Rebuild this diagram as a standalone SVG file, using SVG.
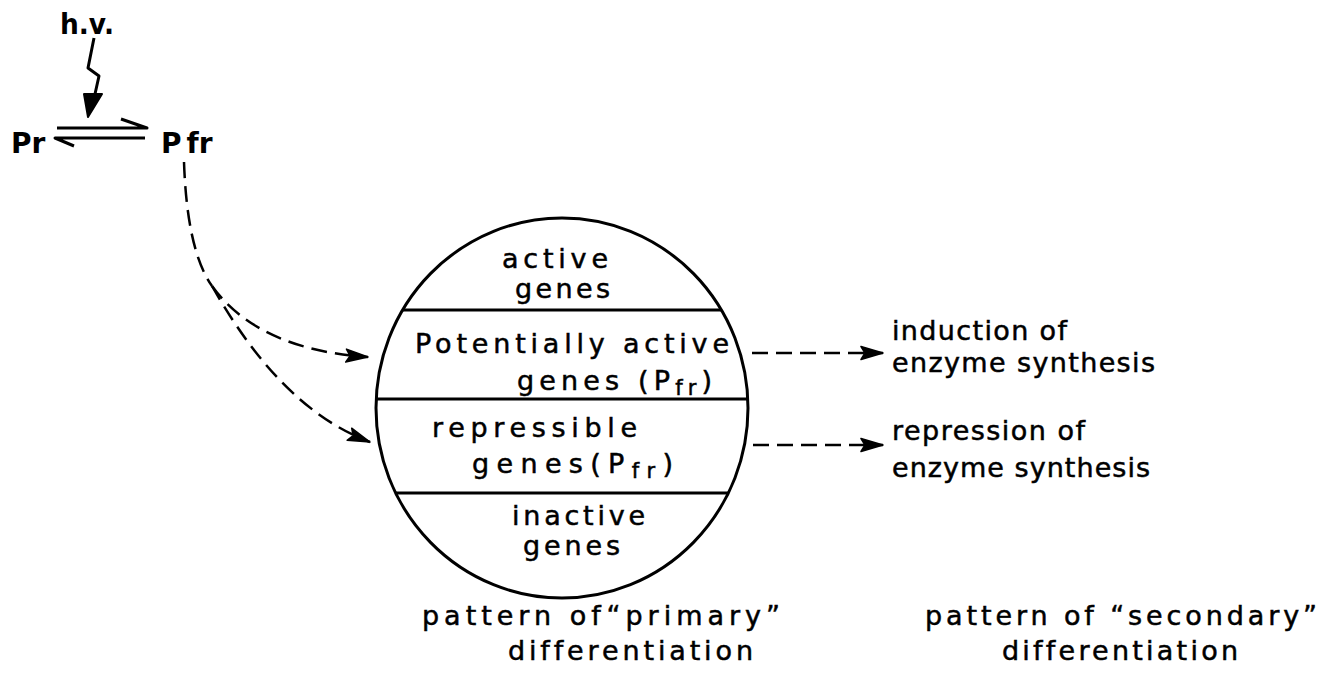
<svg xmlns="http://www.w3.org/2000/svg" width="1334" height="679" viewBox="0 0 1334 679">
<style>
.t{font-family:"DejaVu Sans","Liberation Sans",sans-serif;font-size:27px;fill:#000;stroke:#000;stroke-width:0.5;font-variant-ligatures:none}
.b{font-family:"DejaVu Sans","Liberation Sans",sans-serif;font-size:28px;font-weight:bold;fill:#000}
.sub{font-size:21px}
.ln{stroke:#000;stroke-width:3;fill:none}
.dash{stroke:#000;stroke-width:2.5;fill:none;stroke-dasharray:16 8}
</style>
<defs>
<marker id="ah" viewBox="0 0 24 16" refX="23" refY="8" markerWidth="24" markerHeight="16" markerUnits="userSpaceOnUse" orient="auto">
<path d="M1,1.5 L23,8 L1,14.5 L5,8 Z" fill="#000" stroke="#000" stroke-width="1.5" stroke-linejoin="round"/>
</marker>
</defs>
<rect width="1334" height="679" fill="#fff"/>

<g id="light">
<text class="b" x="60" y="34" font-size="28" textLength="54" lengthAdjust="spacingAndGlyphs">h.v.</text>
<path class="ln" stroke-width="4" d="M94,38 L88,68 L99,76 L95,94" stroke-linejoin="round"/>
<path d="M84,94 L102,94 L88,117 Z" fill="#000" stroke="#000" stroke-width="2" stroke-linejoin="round"/>
</g>

<g id="pr">
<text class="b" x="11" y="153">Pr</text>
</g>
<g id="pfr">
<text class="b" x="161" y="153">P<tspan dx="5">fr</tspan></text>
</g>

<g id="equilibrium">
<path class="ln" stroke-width="4" d="M57,128 L147,128 L121,119" stroke-linejoin="round"/>
<path class="ln" stroke-width="4" d="M145,138 L55,138 L74,146" stroke-linejoin="round"/>
</g>

<g id="cell">
<ellipse cx="562" cy="408" rx="186" ry="190" fill="none" stroke="#000" stroke-width="3"/>
<line class="ln" x1="403" y1="310" x2="721" y2="310" stroke-width="2.5"/>
<line class="ln" x1="376" y1="399" x2="748" y2="399" stroke-width="2.5"/>
<line class="ln" x1="396" y1="493" x2="728" y2="493" stroke-width="2.5"/>
<text class="t" x="502" y="268" textLength="106" lengthAdjust="spacing">active</text>
<text class="t" x="515" y="298" textLength="95" lengthAdjust="spacing">genes</text>
<text class="t" x="415" y="353" textLength="314" lengthAdjust="spacing">Potentially active</text>
<text class="t" x="517" y="390" textLength="195" lengthAdjust="spacing">genes (P<tspan class="sub" dy="5">fr</tspan><tspan dy="-5">)</tspan></text>
<text class="t" x="432" y="437" textLength="205" lengthAdjust="spacing">repressible</text>
<text class="t" x="472" y="473" textLength="201" lengthAdjust="spacing">genes(P<tspan class="sub" dy="5">fr</tspan><tspan dy="-5">)</tspan></text>
<text class="t" x="512" y="525" textLength="133" lengthAdjust="spacing">inactive</text>
<text class="t" x="523" y="555" textLength="97" lengthAdjust="spacing">genes</text>
</g>

<g id="induction">
<text class="t" x="892" y="340" textLength="175" lengthAdjust="spacing">induction of</text>
<text class="t" x="892" y="372" textLength="263" lengthAdjust="spacing">enzyme synthesis</text>
</g>
<g id="repression">
<text class="t" x="892" y="440" textLength="193" lengthAdjust="spacing">repression of</text>
<text class="t" x="892" y="477" textLength="258" lengthAdjust="spacing">enzyme synthesis</text>
</g>

<g id="primary">
<text class="t" x="422" y="625" textLength="358" lengthAdjust="spacing">pattern of“primary”</text>
<text class="t" x="508" y="660" textLength="245" lengthAdjust="spacing">differentiation</text>
</g>
<g id="secondary">
<text class="t" x="925" y="625" textLength="392" lengthAdjust="spacing">pattern of “secondary”</text>
<text class="t" x="1002" y="660" textLength="236" lengthAdjust="spacing">differentiation</text>
</g>

<g id="connectors">
<path class="dash" d="M184,162 C186,220 195,262 212,286"/>
<path class="dash" d="M212,286 C240,325 290,352 368,357" marker-end="url(#ah)"/>
<path class="dash" d="M212,286 C240,335 290,412 370,442" marker-end="url(#ah)"/>
<line class="dash" x1="752" y1="353" x2="883" y2="353" marker-end="url(#ah)"/>
<line class="dash" x1="753" y1="445" x2="883" y2="445" marker-end="url(#ah)"/>
</g>
</svg>
